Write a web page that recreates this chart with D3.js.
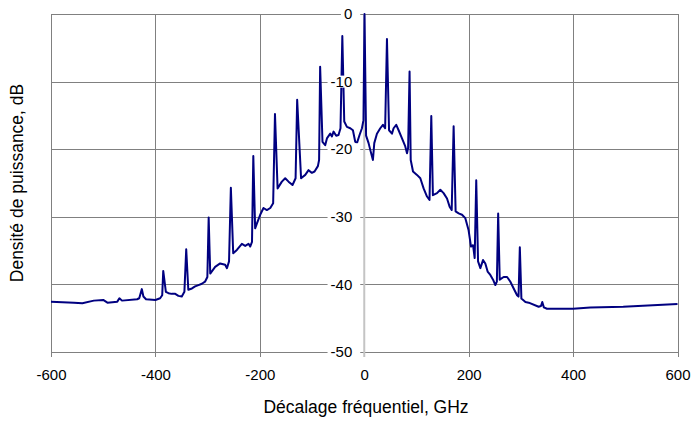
<!DOCTYPE html>
<html>
<head>
<meta charset="utf-8">
<script src="https://cdn.jsdelivr.net/npm/d3@7"></script>
<style>
    body { margin: 0; background: #fff; }
    text { font-family: "Liberation Sans", Arial, sans-serif; font-size: 15px; fill: #000; }
    text.title { font-size: 17.5px; }
</style>
</head>
<body>
<svg id="chart" width="692" height="421"></svg>
<script>
/**
 * Data.
 */
// Frequency offset, GHz
const freq = [
    -600, -556, -540, -518, -500, -492, -473, -469, -464, -435, -431, -426, -423, -418,
    -400, -391, -387, -385, -380, -375, -369, -362, -356, -349.5, -344.5, -341, -337, -330,
    -324, -317.6, -311, -305, -300.5, -298, -295, -285.6, -276, -266.4, -263, -259, -255.5, -251,
    -244, -234.4, -228, -221.7, -218.5, -215, -212.5, -209, -205.7, -199.3, -193, -186.5, -180, -174.5,
    -171, -166, -157.8, -151.4, -145, -137.4, -131.5, -128.5, -121, -113, -106.7, -100.3, -95.2, -88.8,
    -86.5, -84.5, -80, -74.8, -71.5, -65.2, -61.9, -58.8, -53.7, -49.3, -45.5, -42, -38.3, -33.2,
    -26.8, -21.7, -17.3, -14, -9, -4.4, -1.5, 0.5, 3.5, 8.3, 11.5, 16.6, 19.2, 24.3,
    30.7, 35.8, 40, 43.5, 47.5, 53.1, 56.2, 61.3, 65.8, 72.3, 78.6, 81.9, 84, 86.8,
    89, 93.4, 101, 107.4, 113.7, 120.2, 125, 128.4, 131.5, 139.4, 145.7, 152, 158.5, 163.5,
    167.5, 171.2, 175, 180.8, 187.3, 193.6, 199.9, 204.5, 208.4, 211.5, 214.5, 218, 222.4, 227.5,
    231.9, 236.3, 241.5, 246.7, 251.1, 254, 256.5, 259.5, 267, 273.6, 279.9, 286.2, 292.7, 295.5,
    298, 301, 308.7, 315, 334, 338.5, 341, 344, 350, 400, 433, 496, 600
];
// Power density, dB
const power = [
    -42.55, -42.7, -42.8, -42.4, -42.3, -42.7, -42.55, -42.05, -42.4, -42.2, -42.05, -40.7, -41.8, -42.2,
    -42.3, -42.05, -41.6, -38.0, -41.1, -41.3, -41.4, -41.4, -41.7, -41.8, -41.1, -34.8, -40.8, -40.6,
    -40.3, -40.1, -39.9, -39.6, -38.9, -30.1, -38.4, -37.4, -36.9, -37.1, -37.6, -36.6, -25.7, -35.4,
    -34.9, -34.0, -34.3, -34.0, -34.4, -33.7, -21.0, -31.7, -31.0, -29.7, -28.7, -29.0, -28.7, -28.0,
    -14.8, -25.8, -24.8, -24.3, -24.8, -25.3, -24.3, -12.7, -24.3, -23.8, -23.1, -23.5, -23.3, -22.5,
    -21.6, -7.8, -18.9, -19.4, -18.4, -17.7, -18.1, -17.4, -18.0, -17.9, -16.9, -3.25, -15.9, -16.7,
    -16.9, -17.2, -18.9, -19.1, -17.9, -16.9, -15.7, 0, -18.0, -19.1, -20.1, -21.6, -19.1, -17.7,
    -16.9, -16.4, -16.9, -3.7, -17.2, -17.7, -16.9, -16.4, -17.2, -18.4, -19.6, -20.6, -19.8, -8.5,
    -21.6, -23.3, -23.8, -24.3, -25.8, -27.0, -27.5, -15.1, -26.8, -26.5, -26.0, -26.5, -27.3, -28.5,
    -29.0, -16.6, -29.2, -29.5, -29.7, -30.2, -32.0, -34.4, -34.2, -36.1, -24.6, -36.6, -37.6, -36.4,
    -36.9, -38.1, -38.6, -39.3, -40.1, -39.6, -29.5, -39.3, -38.9, -38.9, -39.6, -40.6, -41.6, -41.8,
    -34.5, -42.1, -42.6, -42.7, -43.3, -43.2, -42.6, -43.4, -43.6, -43.6, -43.4, -43.3, -42.9
];
const xTicks = [-600, -400, -200, 0, 200, 400, 600];
const yTicks = [0, -10, -20, -30, -40, -50];
const xTitle = 'Décalage fréquentiel, GHz';
const yTitle = 'Densité de puissance, dB';

/**
 * Layout.
 */
const margin = { top: 14, right: 14.5, bottom: 69, left: 51 };
const svg = d3.select('#chart');
const width = +svg.attr('width') - margin.left - margin.right,
    height = +svg.attr('height') - margin.top - margin.bottom;

const xScale = d3.scaleLinear().domain([ -600, 600 ]).range([ 0, width ]),
    yScale = d3.scaleLinear().domain([ -50, 0 ]).range([ height, 0 ]);

const snap = v => Math.round(v) + 0.5;

const g = svg.append('g').attr('transform', 'translate(' + margin.left + ',' + margin.top + ')');

// Grid
const grid = g.append('g').attr('class', 'grid')
    .attr('stroke', '#808080').attr('stroke-width', 1).attr('shape-rendering', 'crispEdges');
grid.selectAll('line.v').data(xTicks.filter(d => d !== 0)).enter().append('line')
    .attr('class', 'v')
    .attr('x1', d => snap(xScale(d))).attr('x2', d => snap(xScale(d)))
    .attr('y1', 0).attr('y2', height + 5);
grid.selectAll('line.h').data(yTicks).enter().append('line')
    .attr('class', 'h')
    .attr('x1', 0).attr('x2', width)
    .attr('y1', d => snap(yScale(d))).attr('y2', d => snap(yScale(d)));

// Vertical axis through zero
g.append('line')
    .attr('x1', xScale(0)).attr('x2', xScale(0))
    .attr('y1', 0).attr('y2', height + 5)
    .attr('stroke', '#c4c4c4').attr('stroke-width', 2);

// Trace
const points = freq.map((f, i) => [ xScale(f), yScale(power[i]) ]);
g.append('path')
    .attr('d', d3.line()(points))
    .attr('fill', 'none')
    .attr('stroke', '#000080')
    .attr('stroke-width', 2)
    .attr('stroke-linejoin', 'round');

// x-axis labels
const xAxis = d3.axisBottom(xScale).tickValues(xTicks).tickSize(0).tickPadding(17).tickFormat(d => String(d));
g.append('g').attr('transform', 'translate(0,' + height + ')').call(xAxis)
    .call(s => s.select('.domain').remove())
    .selectAll('text').style('font-size', '15px').style('font-family', '"Liberation Sans", Arial, sans-serif');

// y-axis labels, sitting on the zero line with a white backing
const yAxisG = g.append('g').attr('transform', 'translate(' + xScale(0) + ',0)');
const yLabels = yAxisG.selectAll('g.tick').data(yTicks).enter().append('g')
    .attr('class', 'tick')
    .attr('transform', d => 'translate(0,' + yScale(d) + ')');
yLabels.append('rect');
yLabels.append('text')
    .attr('x', -12).attr('dy', '0.35em')
    .attr('text-anchor', 'end')
    .text(d => String(d));
yLabels.each(function() {
    const bb = d3.select(this).select('text').node().getBBox();
    d3.select(this).select('rect')
        .attr('x', bb.x - 3).attr('y', -6)
        .attr('width', bb.width + 11).attr('height', 12)
        .attr('fill', '#fff');
});

// Axis titles
svg.append('text')
    .attr('class', 'title')
    .attr('x', 366).attr('y', 413)
    .attr('text-anchor', 'middle')
    .text(xTitle);
svg.append('text')
    .attr('class', 'title')
    .attr('transform', 'translate(22.5,' + (margin.top + height / 2) + ') rotate(-90)')
    .attr('text-anchor', 'middle')
    .text(yTitle);
</script>
</body>
</html>
